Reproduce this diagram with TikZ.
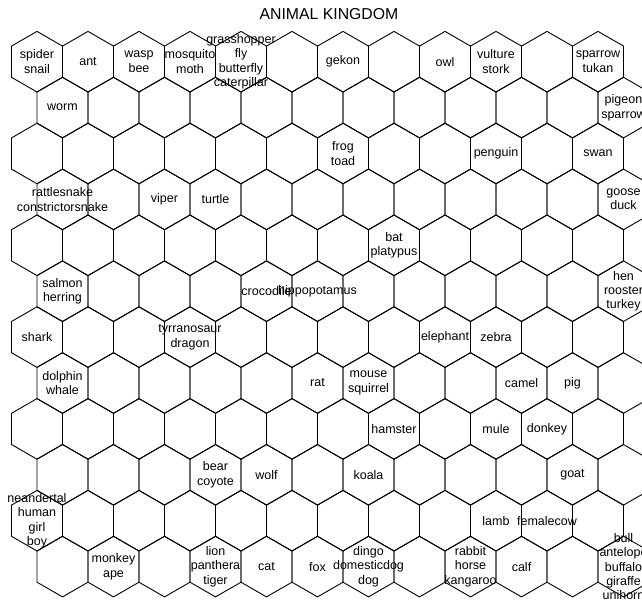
\documentclass[tikz,border=0pt]{standalone}
\usepackage{fontspec}
\setmainfont{Liberation Sans}
\begin{document}
\begin{tikzpicture}[x=1pt,y=-1pt,
  cell/.style={line width=0.9pt,line join=miter},
  lbl/.style={align=center,inner sep=0pt,font=\fontsize{12.5}{14.4}\selectfont}]
  \clip (0,0) rectangle (642,601);
  \node[font=\fontsize{15.8}{18}\selectfont] (title) at (329,14.3) {ANIMAL KINGDOM};
  % hex grid, odd rows shifted half a cell
  \foreach \r in {0,...,11} \foreach \c in {0,...,11} {
    \pgfmathsetmacro{\cx}{37+51*\c+25.5*mod(\r,2)} \pgfmathsetmacro{\cy}{61.7+45.9*\r}
    \draw[cell] (\cx,\cy-30.3) -- ++(25.5,14.7) -- ++(0,31.2) -- ++(-25.5,14.7) -- ++(-25.5,-14.7) -- ++(0,-31.2) -- cycle;
  }
  \foreach \r/\c/\nm/\txt in {0/0/spider/{spider\\snail}, 0/1/ant/{ant}, 0/2/wasp/{wasp\\bee}, 0/3/mosquito/{mosquito\\moth},
    0/4/grasshopper/{grasshopper\\fly\\butterfly\\caterpillar}, 0/6/gekon/{gekon}, 0/8/owl/{owl}, 0/9/vulture/{vulture\\stork},
    0/11/sparrow/{sparrow\\tukan}, 1/0/worm/{worm}, 1/11/pigeon/{pigeon\\sparrow},
    2/6/frog/{frog\\toad}, 2/9/penguin/{penguin}, 2/11/swan/{swan},
    3/0/rattlesnake/{rattlesnake\\constrictorsnake}, 3/2/viper/{viper}, 3/3/turtle/{turtle}, 3/11/goose/{goose\\duck},
    4/7/bat/{bat\\platypus},
    5/0/salmon/{salmon\\herring}, 5/4/crocodile/{crocodile}, 5/5/hippo/{hippopotamus}, 5/11/hen/{hen\\rooster\\turkey},
    6/0/shark/{shark}, 6/3/trex/{tyrranosaur\\dragon}, 6/8/elephant/{elephant}, 6/9/zebra/{zebra},
    7/0/dolphin/{dolphin\\whale}, 7/5/rat/{rat}, 7/6/mouse/{mouse\\squirrel}, 7/9/camel/{camel}, 7/10/pig/{pig},
    8/7/hamster/{hamster}, 8/9/mule/{mule}, 8/10/donkey/{donkey},
    9/3/bear/{bear\\coyote}, 9/4/wolf/{wolf}, 9/6/koala/{koala}, 9/10/goat/{goat},
    10/0/neandertal/{neandertal\\human\\girl\\boy}, 10/9/lamb/{lamb}, 10/10/femalecow/{femalecow},
    11/1/monkey/{monkey\\ape}, 11/3/lion/{lion\\panthera\\tiger}, 11/4/cat/{cat}, 11/5/fox/{fox},
    11/6/dingo/{dingo\\domesticdog\\dog}, 11/8/rabbit/{rabbit\\horse\\kangaroo}, 11/9/calf/{calf},
    11/11/bull/{bull\\antelope\\buffalo\\giraffe\\unihorn}} {
    \pgfmathsetmacro{\cx}{37+51*\c+25.5*mod(\r,2)} \pgfmathsetmacro{\cy}{61.7+45.9*\r}
    \node[lbl] (\nm) at (\cx,\cy) {\txt};
  }
\end{tikzpicture}
\end{document}
